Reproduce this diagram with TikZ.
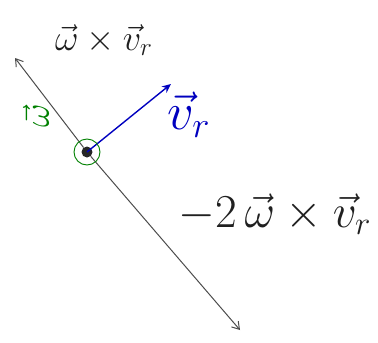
\documentclass[tikz,border=0pt]{standalone}
\usepackage{amsmath}
\usetikzlibrary{positioning, arrows.meta}

\begin{document}
\begin{tikzpicture}[
    x=1pt, y=-1pt,
    pencilLine/.style={gray!60!black, line width=1pt, -{Straight Barb[length=7pt, width=9pt]}}, % gray axis arrows
    blueArrow/.style={blue!75!black, line width=1.4pt, -{Stealth[length=9pt, width=8pt]}}, % velocity vector
    handLabel/.style={font=\huge, scale=1.75, text=gray!25!black, inner sep=1pt}, % large handwritten text
    spinMark/.style={green!50!black, line width=0.9pt}, % green rotation ring
]
    \useasboundingbox (0,0) rectangle (378,343);

    % 1. centre point and end points
    \node[circle, fill=black!85, minimum size=11pt, inner sep=0pt] (o) at (87,152) {};
    \coordinate (up) at (15,58);
    \coordinate (down) at (240,330);
    \coordinate (vr) at (171,84);

    % 2. arrows
    \draw[pencilLine] (o) -- (up);
    \draw[pencilLine] (o) -- (down);
    \draw[blueArrow] (o.center) -- (vr);
    \draw[spinMark] (o.center) circle (13);

    % 3. labels
    \node[handLabel] (topLab) at (104,40) {$\vec{\omega}\times\vec{v}_r$};
    \node[handLabel, text=blue!75!black, scale=1.45] (vLab) at (189,115) {$\vec{v}_r$};
    \node[handLabel, scale=1.3] (botLab) at (275,214) {$-2\,\vec{\omega}\times\vec{v}_r$};
    \node[handLabel, text=green!50!black, rotate=90] (wLab) at (36,116) {$\vec{\omega}$};
\end{tikzpicture}
\end{document}
